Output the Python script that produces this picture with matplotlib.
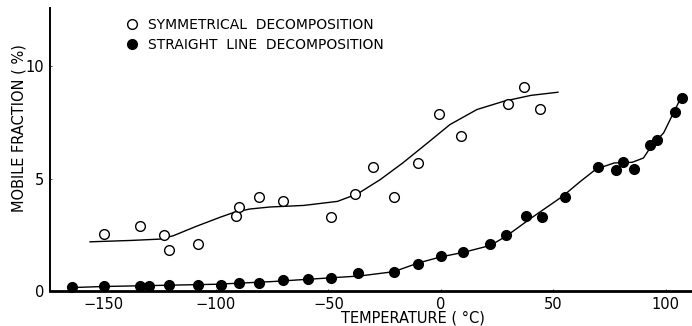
import numpy as np
import matplotlib
matplotlib.use("Agg")
import matplotlib.pyplot as plt

# measured points, symmetrical decomposition (open circles)
sym_t = [-150, -134, -123, -121, -108, -91, -90, -81, -70, -49,
         -38, -30, -21, -10, -1, 9, 30, 37, 44]
sym_f = [2.55, 2.88, 2.48, 1.81, 2.11, 3.36, 3.76, 4.17, 4.0, 3.29,
         4.32, 5.5, 4.17, 5.68, 7.86, 6.9, 8.33, 9.07, 8.11]

# measured points, straight line decomposition (filled circles)
line_t = [-164, -150, -134, -130, -121, -108, -98, -90, -81, -70, -59, -49, -37,
          -21, -10, 0, 10, 22, 29, 38, 45, 55, 70, 78, 81, 86, 93, 96, 104, 107]
line_f = [0.19, 0.22, 0.22, 0.22, 0.25, 0.27, 0.27, 0.37, 0.37, 0.47, 0.52, 0.59, 0.78,
          0.83, 1.22, 1.55, 1.73, 2.08, 2.48, 3.36, 3.29, 4.17, 5.5, 5.38, 5.75, 5.41,
          6.49, 6.71, 7.96, 8.6]

# hand drawn fitted curves
sym_curve_t = [-156, -138, -125, -119, -109, -98, -92, -85, -76, -61, -46, -37,
               -27, -17, -6, 4, 16, 28, 40, 52]
sym_curve_f = [2.19, 2.25, 2.31, 2.46, 2.87, 3.29, 3.5, 3.65, 3.74, 3.81, 3.99, 4.33,
               4.96, 5.7, 6.59, 7.41, 8.08, 8.45, 8.71, 8.85]

line_curve_t = [-165, -150, -125, -100, -75, -50, -36, -21, -10, 0, 10, 22, 29, 40,
                54, 62, 69, 77, 85, 90, 94, 99, 103, 107]
line_curve_f = [0.15, 0.2, 0.25, 0.3, 0.42, 0.58, 0.67, 0.86, 1.25, 1.52, 1.72, 2.03,
                2.44, 3.24, 4.21, 4.88, 5.43, 5.7, 5.73, 5.92, 6.52, 7.04, 7.86, 8.67]

xticks = [-150, -100, -50, 0, 50, 100]
yticks = [0, 5, 10]

fig = plt.figure(figsize=(6.92, 3.26), dpi=100)
ax = fig.add_axes([50/692, 35/326, 642/692, 283/326])

ax.plot(sym_curve_t, sym_curve_f, color='k', lw=1.0)
ax.plot(line_curve_t, line_curve_f, color='k', lw=1.0)
s1, = ax.plot(sym_t, sym_f, 'o', ms=7, mfc='white', mec='k', mew=1.0,
              clip_on=False, label="SYMMETRICAL  DECOMPOSITION")
s2, = ax.plot(line_t, line_f, 'o', ms=7, mfc='k', mec='k',
              clip_on=False, label="STRAIGHT  LINE  DECOMPOSITION")

ax.set_xlim(-173.8, 111.6)
ax.set_ylim(0, 12.6)
ax.set_xticks(xticks)
ax.set_yticks(yticks)
ax.tick_params(labelsize=10.5, length=1.5, width=0.5, direction='in', pad=4)
for s in ['top', 'right']:
    ax.spines[s].set_visible(False)
ax.spines['left'].set_linewidth(1.4)
ax.spines['bottom'].set_linewidth(2.0)

fig.text(413/692, 1-318/326, "TEMPERATURE ( °C)", ha='center', va='center', fontsize=10.5)
fig.text(19/692, 1-128/326, "MOBILE FRACTION ( %)", ha='center', va='center',
         rotation=90, fontsize=10.5)

fig.legend(handles=[s1, s2], loc='upper left', bbox_to_anchor=(124/692, 1-18/326),
           frameon=False, fontsize=10, handletextpad=0.5, handlelength=1.2,
           labelspacing=0.45, borderpad=0, borderaxespad=0)

fig.savefig("out.png", dpi=100)
